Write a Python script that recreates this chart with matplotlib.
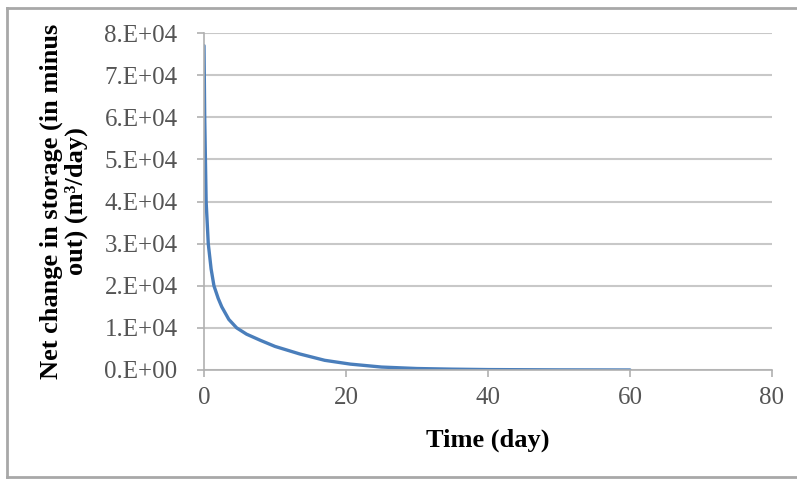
import matplotlib.pyplot as plt
from matplotlib.lines import Line2D
from matplotlib.ticker import FuncFormatter

# time (day) and net change in storage (m3/day)
time_day = [0, 0.1, 0.3, 0.6, 1.0, 1.4, 2.0, 2.5, 3.5, 4.6, 6, 8, 10, 13.5,
            17, 20.6, 25, 30, 35, 40, 50, 60]
net_storage = [77000, 60000, 40000, 30000, 24000, 20000, 17000, 15000, 12000,
               10000, 8500, 7000, 5600, 3800, 2300, 1400, 700, 350, 200, 100,
               30, 0]

xticks = [0, 20, 40, 60, 80]
yticks = [0, 10000, 20000, 30000, 40000, 50000, 60000, 70000, 80000]

plt.rcParams['font.family'] = ['Liberation Serif', 'DejaVu Serif']

fig = plt.figure(figsize=(7.97, 4.79), dpi=100)
ax = fig.add_axes([204/797, 1-370/479, 568/797, 337/479])

ax.plot(time_day, net_storage, color='#4a7ebb', lw=2.4, solid_capstyle='round')

ax.set_xlim(0, 80)
ax.set_ylim(0, 80000)
ax.set_xticks(xticks)
ax.set_yticks(yticks)
ax.yaxis.set_major_formatter(FuncFormatter(
    lambda v, p: '%d.E+%02d' % (v/1e4, 4) if v > 0 else '0.E+00'))

ax.grid(axis='y', color='#c8c8c8', lw=1.5)
ax.set_axisbelow(True)
for s in ['top', 'right']:
    ax.spines[s].set_visible(False)
for s in ['left', 'bottom']:
    ax.spines[s].set_color('#b0b0b0')
    ax.spines[s].set_linewidth(1.2)
ax.tick_params(axis='both', colors='#b0b0b0', labelcolor='#555555',
               labelsize=18, length=5, width=1.2)
ax.tick_params(axis='y', pad=14)
ax.tick_params(axis='x', pad=7)

ax.set_xlabel('Time (day)', fontsize=19, fontweight='bold', labelpad=14)
ax.set_ylabel('Net change in storage (in minus\nout) (m³/day)', fontsize=19,
              fontweight='bold', linespacing=1.05, labelpad=12)

# outer frame
fc = '#a8a8a8'
fig.add_artist(Line2D([7/797, 1], [1-8/479, 1-8/479], color=fc, lw=2,
                      transform=fig.transFigure))
fig.add_artist(Line2D([7/797, 7/797], [1-8/479, 1-477/479], color=fc, lw=2,
                      transform=fig.transFigure))
fig.add_artist(Line2D([7/797, 1], [1-477/479, 1-477/479], color=fc, lw=2,
                      transform=fig.transFigure))

plt.savefig('out.png', dpi=100)
